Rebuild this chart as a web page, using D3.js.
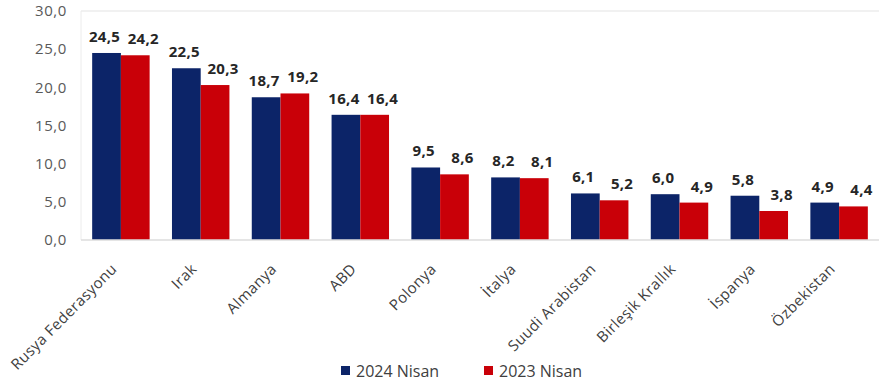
<!DOCTYPE html>
<html>
<head>
<meta charset="utf-8">
<script src="https://cdn.jsdelivr.net/npm/d3@7"></script>
<style>
  body { margin: 0; background: #fff; }
  svg { font-family: "Open Sans", "Noto Sans", sans-serif; }
  .tick-y { fill: #595959; font-size: 15px; letter-spacing: 0.6px; }
  .cat { fill: #404040; font-size: 15px; letter-spacing: 0.4px; }
  .val { fill: #262626; font-size: 15px; font-weight: bold; letter-spacing: 0.3px; }
  .leg { fill: #404040; font-size: 16px; }
</style>
</head>
<body>
<div class="chart"></div>
<script>
var countries = ["Rusya Federasyonu", "Irak", "Almanya", "ABD", "Polonya", "İtalya",
  "Suudi Arabistan", "Birleşik Krallık", "İspanya", "Özbekistan"];
var values2024 = [24.5, 22.5, 18.7, 16.4, 9.5, 8.2, 6.1, 6.0, 5.8, 4.9];
var values2023 = [24.2, 20.3, 19.2, 16.4, 8.6, 8.1, 5.2, 4.9, 3.8, 4.4];
var seriesNames = ["2024 Nisan", "2023 Nisan"];
var yTicks = [0, 5, 10, 15, 20, 25, 30];

var colors = ["#0c2468", "#c90008"];

var svgWidth = 885;
var svgHeight = 389;
var margin = { top: 11, right: 6, bottom: 149, left: 81 };
var width = svgWidth - margin.left - margin.right;
var height = svgHeight - margin.top - margin.bottom;

var fmt = function(v) { return v.toFixed(1).replace(".", ","); };

var svg = d3.select(".chart")
  .append("svg")
  .attr("width", svgWidth)
  .attr("height", svgHeight);

var chart = svg.append("g")
  .attr("transform", "translate(" + margin.left + "," + margin.top + ")");

var x0 = d3.scaleBand().domain(countries).range([0, width]).paddingInner(0.28).paddingOuter(0.14);
var x1 = d3.scaleBand().domain(seriesNames).range([0, x0.bandwidth()]);
var y = d3.scaleLinear().domain([0, 30]).range([height, 0]);

// plot frame
chart.append("line").attr("x1", 0).attr("x2", width).attr("y1", 0).attr("y2", 0)
  .attr("stroke", "#ececec").attr("stroke-width", 1.5);
chart.append("line").attr("x1", 0).attr("x2", 0).attr("y1", 0).attr("y2", height)
  .attr("stroke", "#ececec").attr("stroke-width", 1);

// y tick labels
chart.selectAll(".tick-y")
  .data(yTicks)
  .enter()
  .append("text")
  .attr("class", "tick-y")
  .attr("x", -14)
  .attr("y", function(d) { return y(d); })
  .attr("dy", "0.35em")
  .attr("text-anchor", "end")
  .text(fmt);

var data = countries.map(function(c, i) {
  return { country: c, vals: [values2024[i], values2023[i]] };
});

var groups = chart.selectAll(".grp")
  .data(data)
  .enter()
  .append("g")
  .attr("class", "grp")
  .attr("transform", function(d) { return "translate(" + x0(d.country) + ",0)"; });

groups.selectAll("rect")
  .data(function(d) { return d.vals.map(function(v, k) { return { k: k, v: v }; }); })
  .enter()
  .append("rect")
  .attr("x", function(d) { return x1(seriesNames[d.k]); })
  .attr("y", function(d) { return y(d.v); })
  .attr("width", x1.bandwidth())
  .attr("height", function(d) { return height - y(d.v); })
  .attr("fill", function(d) { return colors[d.k]; });

groups.selectAll(".val")
  .data(function(d) { return d.vals.map(function(v, k) { return { k: k, v: v }; }); })
  .enter()
  .append("text")
  .attr("class", "val")
  .attr("x", function(d) { return x1(seriesNames[d.k]) + x1.bandwidth() / 2 + (d.k === 1 ? 8 : -2); })
  .attr("y", function(d) { return y(d.v) - 11; })
  .attr("text-anchor", "middle")
  .text(function(d) { return fmt(d.v); });

// baseline
chart.append("line").attr("x1", 0).attr("x2", width).attr("y1", height).attr("y2", height)
  .attr("stroke", "#dcdcdc").attr("stroke-width", 1.5);

// category labels
chart.selectAll(".cat")
  .data(countries)
  .enter()
  .append("text")
  .attr("class", "cat")
  .attr("text-anchor", "end")
  .attr("transform", function(d) {
    return "translate(" + (x0(d) + x0.bandwidth() / 2 - 3) + "," + (height + 30) + ") rotate(-45)";
  })
  .text(function(d) { return d; });

// legend
var legend = svg.append("g").attr("transform", "translate(341,366)");
var legX = [0, 143];
seriesNames.forEach(function(name, i) {
  legend.append("rect").attr("x", legX[i]).attr("y", 0).attr("width", 9).attr("height", 9)
    .attr("fill", colors[i]);
  legend.append("text").attr("class", "leg").attr("x", legX[i] + 15).attr("y", 5)
    .attr("dy", "0.35em").text(name);
});
</script>
</body>
</html>
